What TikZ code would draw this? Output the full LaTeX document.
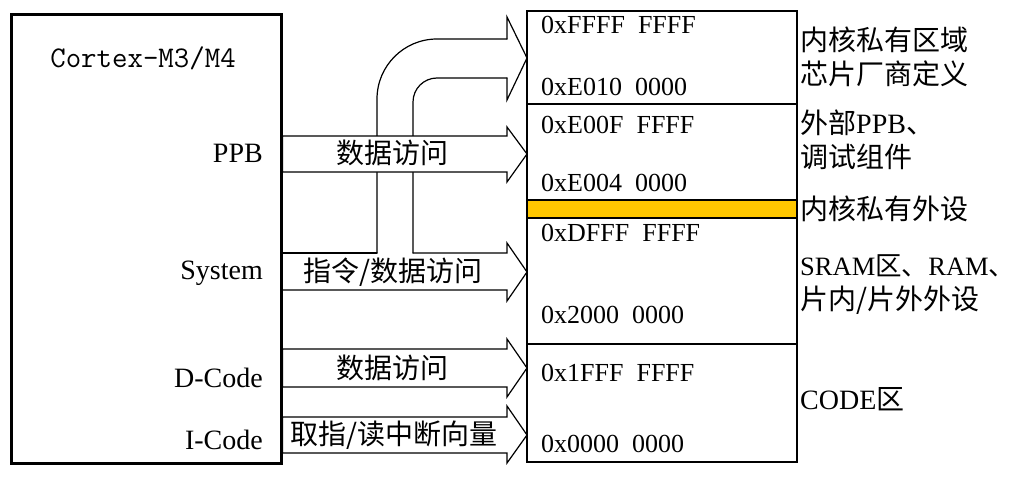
\documentclass[tikz,border=0pt]{standalone}
\usepackage{fontspec}
\setmainfont{Liberation Serif}
\newfontfamily\cjk{Noto Sans CJK SC}
\usetikzlibrary{positioning}
\definecolor{bandyellow}{RGB}{255,199,0}
% bus arrow: top, bottom, head top, head bottom, tip
\newcommand{\busarrow}[5]{%
  \draw[bus, fill=white] (cpu.east |- 0,#1) -- (head |- 0,#1) -- (head |- 0,#3)
    -- (tip |- 0,#5) -- (head |- 0,#4) -- (head |- 0,#2) -- (cpu.east |- 0,#2) -- cycle;}
\newcommand{\hexgap}{\hspace{0.5em}}

\begin{document}
\begin{tikzpicture}[
x=1pt, y=-1pt,
cpubox/.style={
  draw,
  line width=2.6pt,
  minimum width=270pt,
  minimum height=449pt,
  inner sep=0pt,
  anchor=north west
  },
region/.style={
  draw,
  line width=1.6pt,
  minimum width=270pt,
  inner sep=0pt,
  outer sep=0pt,
  anchor=north west
  },
bus/.style={line width=1.2pt, line cap=round},
port/.style={anchor=east, inner sep=0pt, font=\fontsize{28}{30}\selectfont},
addr/.style={anchor=west, inner sep=0pt, font=\fontsize{26}{28}\selectfont},
buslabel/.style={inner sep=0pt, font=\cjk\fontsize{28}{30}\selectfont},
note/.style={anchor=west, align=left, inner sep=0pt, font=\fontsize{28}{34}\selectfont}
]
\useasboundingbox (0,0) rectangle (1024,476);

% memory map
\node[region, minimum height=93pt] (core) at (527,11) {};
\node[region, minimum height=96pt, below=0pt of core] (ppbmem) {};
\node[region, minimum height=18pt, fill=bandyellow, below=0pt of ppbmem] (periph) {};
\node[region, minimum height=126pt, below=0pt of periph] (sram) {};
\node[region, minimum height=118pt, below=0pt of sram] (code) {};

\node[addr] (a1) at (541,25) {0xFFFF\hexgap FFFF};
\node[addr] (a2) at (541,87) {0xE010\hexgap 0000};
\node[addr] (a3) at (541,125) {0xE00F\hexgap FFFF};
\node[addr] (a4) at (541,183) {0xE004\hexgap 0000};
\node[addr] (a5) at (541,233) {0xDFFF\hexgap FFFF};
\node[addr] (a6) at (541,315) {0x2000\hexgap 0000};
\node[addr] (a7) at (541,373) {0x1FFF\hexgap FFFF};
\node[addr] (a8) at (541,444) {0x0000\hexgap 0000};

\node[note] (n1) at (800,57) {{\cjk 内核私有区域}\\{\cjk 芯片厂商定义}};
\node[note] (n2) at (800,140) {{\cjk 外部}PPB{\cjk 、}\\{\cjk 调试组件}};
\node[note] (n3) at (800,209) {{\cjk 内核私有外设}};
\node[note] (n4) at (800,285) {{\fontsize{26.5}{34}\selectfont SRAM{\cjk 区、}RAM{\cjk 、}}\\{\cjk 片内/片外外设}};
\node[note] (n5) at (800,399) {CODE{\cjk 区}};

% core
\node[cpubox] (cpu) at (10,13) {};
\node[font=\ttfamily\fontsize{30}{32}\selectfont] (title) at (143,58) {Cortex-M3/M4};
\node[port] (ppb) at (263,153) {PPB};
\node[port] (system) at (263,273) {System};
\node[port] (dcode) at (263,378) {D-Code};
\node[port] (icode) at (263,440) {I-Code};

\coordinate (head) at (507,0);
\coordinate (tip) at (core.west);

% system bus, branch to the core region
\draw[bus] (cpu.east |- 0,253) -- (377,253);
\draw[bus, rounded corners=60pt] (377,253) -- (377,39) -- (head |- 0,39);
\draw[bus] (head |- 0,39) -- (head |- 0,17) -- (tip |- 0,58) -- (head |- 0,100) -- (head |- 0,78);
\draw[bus, rounded corners=24pt] (head |- 0,78) -- (413,78) -- (413,253);
\draw[bus] (413,253) -- (head |- 0,253) -- (head |- 0,243) -- (tip |- 0,272)
  -- (head |- 0,301) -- (head |- 0,290) -- (cpu.east |- 0,290);

\busarrow{136}{172}{127}{182}{154}
\busarrow{349}{387}{339}{397}{368}
\busarrow{417}{453}{406}{463}{435}
\node[cpubox] at (10,13) {};

\node[buslabel] (ppbtext) at (392,153) {数据访问};
\node[buslabel] (systext) at (393,272) {指令/数据访问};
\node[buslabel] (dtext) at (392,368) {数据访问};
\node[buslabel] (itext) at (394,435) {取指/读中断向量};
\end{tikzpicture}
\end{document}
